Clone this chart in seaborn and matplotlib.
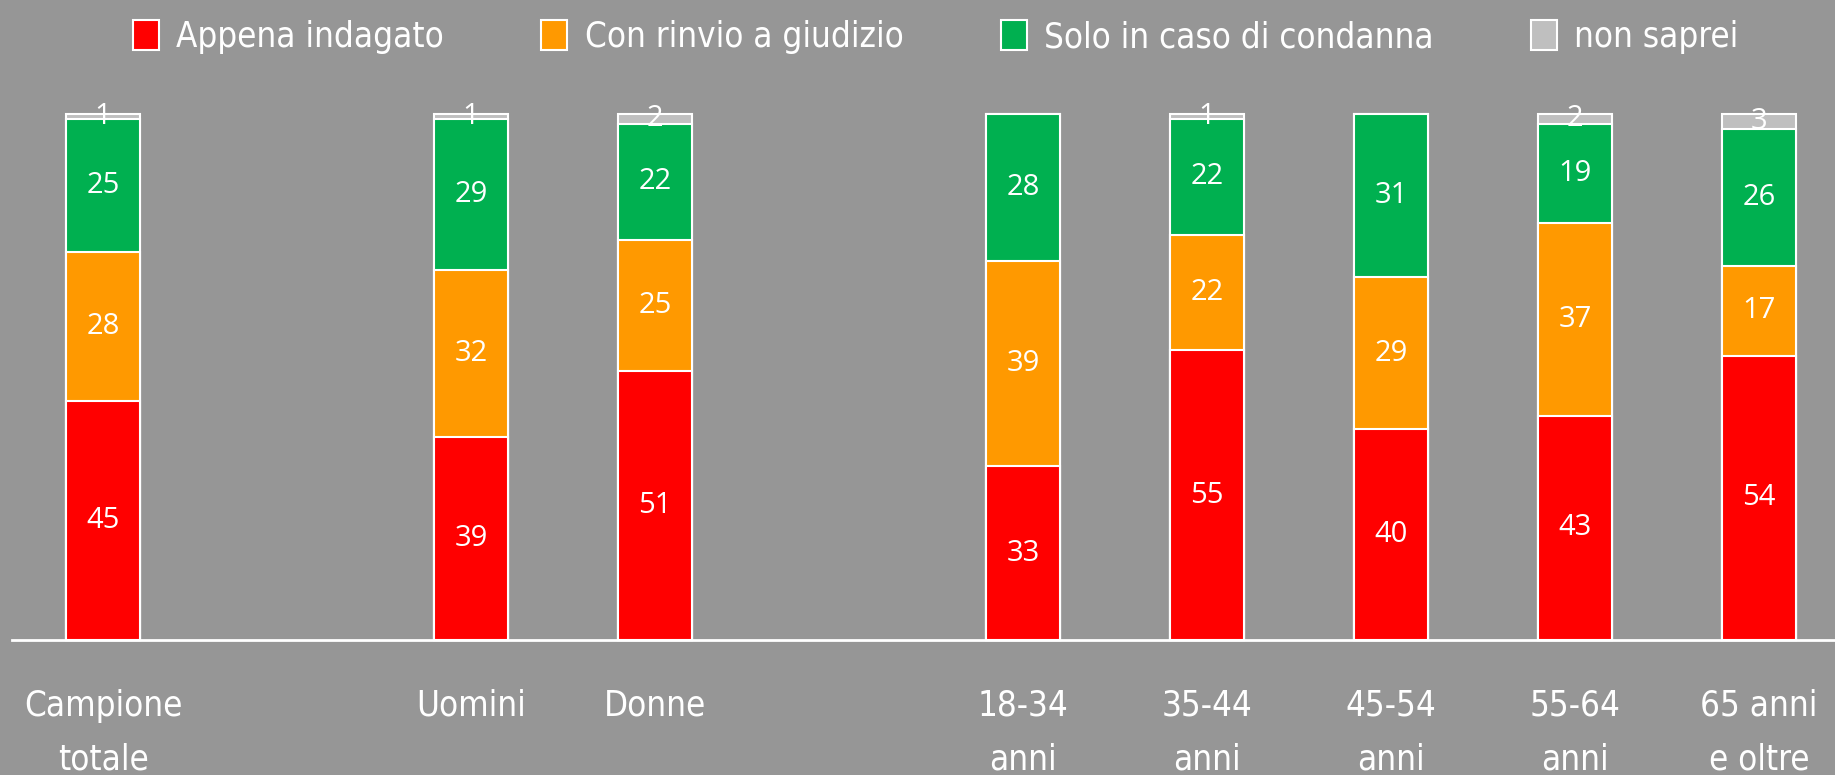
import numpy as np
import matplotlib
matplotlib.use("Agg")
import matplotlib.pyplot as plt
from matplotlib import font_manager as fm
from matplotlib.patches import Patch
import seaborn as sns

# Groups and their slot positions (empty slots separate the blocks)
groups = ["Campione\ntotale", "Uomini", "Donne", "18-34\nanni", "35-44\nanni",
          "45-54\nanni", "55-64\nanni", "65 anni\ne oltre"]
slots = [0, 2, 3, 5, 6, 7, 8, 9]

# Answer shares (%) per group, bottom to top
appena = [45, 39, 51, 33, 55, 40, 43, 54]
rinvio = [28, 32, 25, 39, 22, 29, 37, 17]
condanna = [25, 29, 22, 28, 22, 31, 19, 26]
non_saprei = [1, 1, 2, 0, 1, 0, 2, 3]

series_names = ["Appena indagato", "Con rinvio a giudizio",
                "Solo in caso di condanna", "non saprei"]
colors = ["#FF0000", "#FF9900", "#00B050", "#BFBFBF"]
bg = "#969696"

sns.set_theme(style="white")
plt.rcParams["font.family"] = ["DejaVu Sans"]

# Condensed face for legend and category labels
label_size = 25
label_font = fm.FontProperties(family="DejaVu Sans", stretch="condensed",
                               size=label_size)

values = np.array([appena, rinvio, condanna, non_saprei], dtype=float)
shares = values / values.sum(axis=0) * 100          # 100% stacked
tops = np.cumsum(shares, axis=0)
bottoms = tops - shares

fig = plt.figure(figsize=(18.35, 7.75), dpi=100, facecolor=bg)
ax = fig.add_axes([12 / 1835, 1 - 640 / 775, 1 - 12 / 1835, (640 - 113.5) / 775])
ax.set_facecolor(bg)

# Stacked bars: draw cumulative totals from the top layer down
for i in reversed(range(4)):
    sns.barplot(x=slots, y=tops[i], native_scale=True, width=0.4,
                color=colors[i], saturation=1, edgecolor="white",
                linewidth=1.5, errorbar=None, ax=ax)
for p in ax.patches:
    p.set_clip_on(False)

# Value labels in the middle of each segment
for i in range(4):
    for j, s in enumerate(slots):
        v = values[i, j]
        if v <= 0:
            continue
        ax.text(s, bottoms[i, j] + shares[i, j] / 2, f"{int(v)}",
                ha="center", va="center", color="white", fontsize=21,
                family=["Open Sans", "DejaVu Sans"])

ax.set_xlim(-0.495, 9.413)
ax.set_ylim(0, 100)
ax.set_yticks([])
ax.set_xticks(slots)
ax.set_xticklabels(groups, color="white", linespacing=1.75,
                   fontproperties=label_font)
ax.tick_params(axis="x", length=0, pad=35)
ax.set_xlabel("")
ax.set_ylabel("")
for side in ["left", "right", "top"]:
    ax.spines[side].set_visible(False)
ax.spines["bottom"].set_color("white")
ax.spines["bottom"].set_linewidth(2)

handles = [Patch(facecolor=c, edgecolor="white", linewidth=1.5) for c in colors]
fig.legend(handles, series_names, loc="center", bbox_to_anchor=(0.51, 0.952),
           ncol=4, frameon=False, prop=label_font, handlelength=0.75,
           handleheight=0.95, handletextpad=0.5, columnspacing=2.8,
           labelcolor="white")

fig.savefig("out.png", dpi=100, facecolor=bg)
